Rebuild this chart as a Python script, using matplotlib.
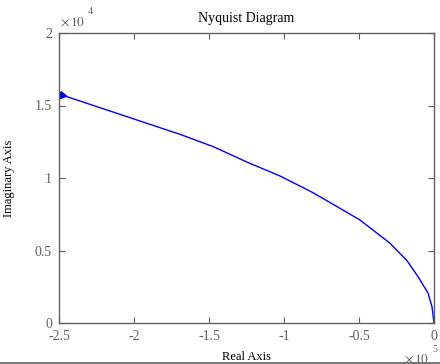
import matplotlib.pyplot as plt
from matplotlib.lines import Line2D
from matplotlib.ticker import FuncFormatter

# nyquist curve (real, imag)
re = [-248000, -220000, -200000, -169300, -147100, -124700, -102700, -82700,
      -73300, -49300, -29300, -18000, -10700, -4000, -1300, 0]
im = [15720, 14760, 14070, 13010, 12160, 11100, 10140, 9100,
      8550, 7100, 5500, 4300, 3200, 2070, 1100, 0]

xticks = [-250000, -200000, -150000, -100000, -50000, 0]
yticks = [0, 5000, 10000, 15000, 20000]

plt.rcParams['font.family'] = ['Liberation Serif', 'DejaVu Serif']
gray = '#606060'

fig = plt.figure(figsize=(4.4, 3.64), dpi=100)
ax = fig.add_axes([59/440, 41/364, 375/440, 290/364])

ax.plot(re, im, color='#0000ff', lw=1.0)
ax.plot([re[0]], [im[0]], marker=(3, 0, 20), color='#0000ff', ms=6)
ax.plot([-1], [0], marker='+', color='red', ms=4, mew=1)

ax.set_xlim(-250000, 0)
ax.set_ylim(0, 20000)
ax.set_xticks(xticks)
ax.set_yticks(yticks)
ax.xaxis.set_major_formatter(FuncFormatter(lambda v, p: '%g' % (v / 1e5)))
ax.yaxis.set_major_formatter(FuncFormatter(lambda v, p: '%g' % (v / 1e4)))
ax.tick_params(direction='in', length=4, width=0.8, colors=gray,
               labelsize=10, top=True, right=True)
ax.tick_params(axis='x', pad=5)
ax.tick_params(axis='y', pad=5)
for s in ax.spines.values():
    s.set_color(gray)
    s.set_linewidth(1.0)

ax.set_title('Nyquist Diagram', fontsize=10, pad=8)
ax.set_xlabel('Real Axis', fontsize=9, labelpad=6)
ax.set_ylabel('Imaginary Axis', fontsize=9, labelpad=14)

fig.text(60/440, 1 - 22/364, r'$\times\,10$', fontsize=9.5, color=gray,
         va='center', ha='left', math_fontfamily='stix')
fig.text(88/440, 1 - 11/364, '4', fontsize=7, color=gray, va='center')
fig.text(404/440, 1 - 359/364, r'$\times\,10$', fontsize=9.5, color=gray,
         va='center', ha='left', math_fontfamily='stix')
fig.text(432/440, 1 - 350/364, '5', fontsize=7, color=gray, va='center')

fig.add_artist(Line2D([0, 1], [1/364, 1/364], color=gray, lw=1.2,
                      transform=fig.transFigure))

fig.savefig('out.png', dpi=100)
